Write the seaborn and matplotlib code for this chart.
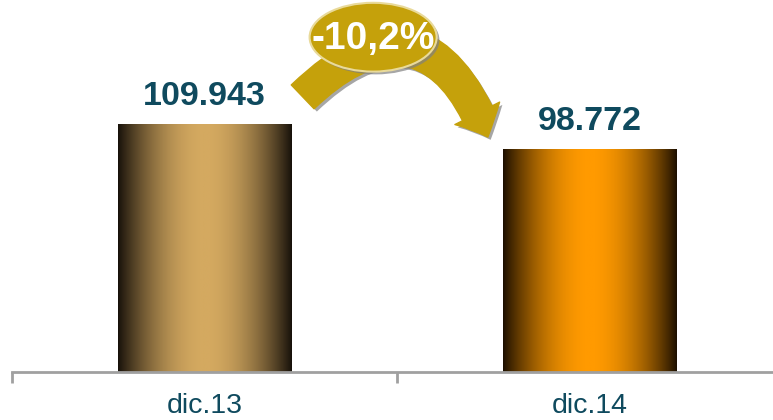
import numpy as np
import pandas as pd
import matplotlib
matplotlib.use("Agg")
import matplotlib.pyplot as plt
import matplotlib.patheffects as pe
from matplotlib.colors import LinearSegmentedColormap
from matplotlib.patches import FancyArrowPatch, Ellipse
import seaborn as sns

# ── data ──────────────────────────────────────────────────────────────────────
categories = ["dic.13", "dic.14"]
values = [109943, 98772]
value_labels = ["109.943", "98.772"]
change_label = "-10,2%"

# gradient colours per bar: (edge, centre)
bar_colours = [("#17110A", "#D4A960"), ("#1C0F00", "#FF9A00")]
text_col = "#0F4A5E"
gold = "#C5A10B"

sns.set_theme(style="white")
plt.rcParams["font.family"] = ["Liberation Sans", "DejaVu Sans"]

df = pd.DataFrame({"cat": categories, "val": values})

fig = plt.figure(figsize=(7.73, 4.2), dpi=100)
ax = fig.add_axes([12 / 773, 48 / 420, 770 / 773, 372 / 420])

sns.barplot(data=df, x="cat", y="val", hue="cat", legend=False,
            palette=[c[1] for c in bar_colours], width=0.45, ax=ax)

# ── cylinder-like horizontal gradient on each bar ────────────────────────────
prof = np.sin(np.linspace(0, np.pi, 256)) ** 0.9
for patch, (dark, light) in zip(ax.patches, bar_colours):
    cmap = LinearSegmentedColormap.from_list("g", [dark, light])
    x0, y0 = patch.get_x(), patch.get_y()
    w, h = patch.get_width(), patch.get_height()
    im = ax.imshow(prof[np.newaxis, :], cmap=cmap, aspect="auto",
                   extent=[x0, x0 + w, y0, y0 + h], vmin=0, vmax=1, zorder=2)
    im.set_clip_path(patch)
    patch.set_edgecolor("none")

ax.set_xlim(-0.5, 1.5)
ax.set_ylim(0, 165000)

# ── value labels ──────────────────────────────────────────────────────────────
for i, (v, lab) in enumerate(zip(values, value_labels)):
    ax.text(i, v + 8400, lab, ha="center", va="baseline", fontsize=24.5,
            fontweight="bold", color=text_col)

# ── curved change arrow with ellipse badge ───────────────────────────────────
shadow = [pe.SimplePatchShadow(offset=(2, -2), shadow_rgbFace="#808080",
                               alpha=0.7), pe.Normal()]
arrow = FancyArrowPatch(
    (0.255, values[0] * 1.11), (0.736, values[1] * 1.055),
    connectionstyle="arc3,rad=-0.74",
    arrowstyle="simple,head_width=2.5,head_length=1.3,tail_width=1.65",
    mutation_scale=14.4, color=gold, zorder=5, shrinkA=0, shrinkB=0,
    path_effects=shadow,
)
ax.add_patch(arrow)

badge = Ellipse((0.469, 0.90), 0.165, 0.185, transform=ax.transAxes,
                facecolor=gold, edgecolor="#E9DA9A", linewidth=1.5, zorder=6,
                path_effects=shadow)
ax.add_patch(badge)
ax.text(0.469, 0.895, change_label, transform=ax.transAxes, ha="center",
        va="center", fontsize=28, fontweight="bold", color="white", zorder=7)

# ── axes styling ──────────────────────────────────────────────────────────────
for s in ["top", "right", "left"]:
    ax.spines[s].set_visible(False)
ax.spines["bottom"].set_color("#A0A0A0")
ax.spines["bottom"].set_linewidth(2)
ax.set_yticks([])
ax.set_xlabel("")
ax.set_ylabel("")
ax.set_xticks([0, 1])
ax.set_xticklabels(categories, fontsize=20.5, color=text_col)
ax.set_xticks([-0.5, 0.5, 1.5], minor=True)
ax.tick_params(axis="x", which="major", length=0, pad=15)
ax.tick_params(axis="x", which="minor", length=8, width=2, color="#A0A0A0",
               bottom=True, direction="out")

fig.savefig("out.png", dpi=100)
